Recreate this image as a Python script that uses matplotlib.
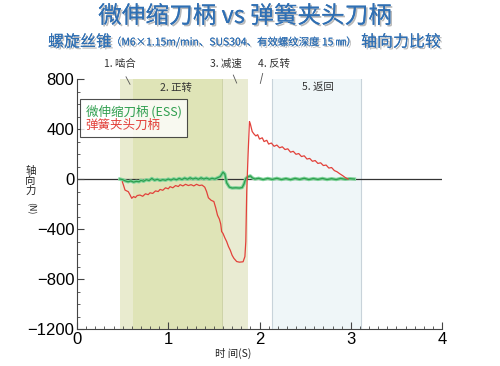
import matplotlib
matplotlib.use("Agg")
import matplotlib.pyplot as plt
import matplotlib.patheffects as pe
from matplotlib.ticker import MultipleLocator

plt.rcParams['font.family'] = ['Noto Sans CJK SC', 'DejaVu Sans']

# --- data ---
# phases: label, start (s), end (s)
phase_names = ["1. 啮合", "2. 正转", "3. 减速", "4. 反转", "5. 返回"]
phase_start = [0.47, 0.614, 1.589, 1.874, 2.137]
phase_end = [0.614, 1.589, 1.874, 2.137, 3.11]

# ESS (micro-float holder), axial force N
ess_t = [0.47, 0.50, 0.53, 0.56, 0.59, 0.62, 0.65, 0.68, 0.70, 0.73, 0.76, 0.79,
         0.82, 0.85, 0.88, 0.91, 0.94, 0.97, 1.00, 1.03, 1.06, 1.09, 1.12, 1.15,
         1.18, 1.21, 1.24, 1.27, 1.30, 1.33, 1.36, 1.39, 1.42, 1.45, 1.48, 1.51,
         1.54, 1.57, 1.60, 1.62, 1.64, 1.67, 1.70, 1.74, 1.78, 1.81, 1.83, 1.85,
         1.88, 1.90, 1.92, 1.95, 1.99, 2.04, 2.09, 2.14, 2.19, 2.24, 2.29, 2.34,
         2.39, 2.44, 2.49, 2.54, 2.59, 2.64, 2.69, 2.74, 2.79, 2.84, 2.89, 2.94,
         2.99, 3.04]
ess_f = [0, -5, -15, -22, -15, -25, -18, -22, -10, -18, -5, -12,
         5, -10, -2, -12, -5, -10, 0, -8, 2, -6, 5, -4,
         8, -2, 10, 0, 8, -2, 10, 0, 8, -2, 6, 0,
         10, 20, 55, 40, -30, -65, -72, -70, -72, -68, -40, 5,
         20, 25, 10, 0, 6, -4, 5, -3, 6, -4, 4, -5,
         5, -3, 6, -4, 4, -3, 5, -4, 3, -4, 5, -2,
         3, 0]

# collet chuck holder, axial force N
col_t = [0.497, 0.51, 0.526, 0.545, 0.562, 0.58, 0.60, 0.62, 0.64, 0.66, 0.69,
         0.72, 0.75, 0.78, 0.80, 0.83, 0.86, 0.89, 0.91, 0.94, 0.97, 1.00,
         1.02, 1.05, 1.08, 1.11, 1.13, 1.16, 1.19, 1.22, 1.25, 1.28, 1.31,
         1.34, 1.37, 1.40, 1.42, 1.44, 1.47, 1.50, 1.52, 1.54, 1.56, 1.575,
         1.585, 1.60, 1.62, 1.64, 1.66, 1.68, 1.70, 1.72, 1.75, 1.78, 1.82,
         1.84, 1.85, 1.86, 1.875, 1.89, 1.90, 1.92, 1.94, 1.96, 1.98, 2.00,
         2.03, 2.05, 2.08, 2.10, 2.13, 2.16, 2.19, 2.22, 2.25, 2.28, 2.31,
         2.34, 2.37, 2.40, 2.43, 2.46, 2.49, 2.52, 2.55, 2.58, 2.61, 2.64,
         2.67, 2.70, 2.73, 2.76, 2.79, 2.82, 2.85, 2.88, 2.91, 2.94, 2.97]
col_f = [-22, -50, -88, -95, -101, -125, -154, -140, -148, -132, -128,
         -138, -118, -125, -110, -115, -95, -100, -83, -90, -70, -78,
         -61, -70, -52, -60, -45, -55, -42, -52, -45, -55, -42,
         -52, -48, -65, -100, -150, -170, -180, -230, -290, -320, -360,
         -420, -435, -470, -500, -540, -570, -610, -635, -660, -665, -662,
         -620, -500, -100, 200, 460, 440, 380, 360, 345, 355, 320,
         330, 300, 310, 280, 288, 262, 272, 250, 258, 236, 242,
         215, 222, 198, 204, 180, 186, 160, 165, 142, 148, 125,
         130, 108, 112, 88, 92, 68, 58, 42, 28, 12, 0]

# --- figure ---
fig = plt.figure(figsize=(5.0, 3.66), dpi=100)
ax = fig.add_axes([0.154, 0.101, 0.730, 0.683])

shade = ['#e9ebcf', '#dfe4b7', '#e9ebd2', 'none', '#eff6f8']
for s, e, c in zip(phase_start, phase_end, shade):
    if c != 'none':
        ax.axvspan(s, e, color=c, lw=0, zorder=0)
ax.axvline(phase_start[2], color='#c9cfa0', lw=0.6, zorder=0.5)
ax.axvline(phase_start[4], color='#c8d3da', lw=0.8, zorder=0.5)
ax.axvline(phase_end[4], color='#c8d3da', lw=0.8, zorder=0.5)

ax.axhline(0, color='#333333', lw=0.9, zorder=1)

ax.plot(ess_t, ess_f, color='#7fd49a', lw=2.4, zorder=2)
ax.plot(ess_t, ess_f, color='#2e9e4e', lw=0.9, zorder=3, label='微伸缩刀柄 (ESS)')
ax.plot(col_t, col_f, color='#e2413a', lw=0.9, zorder=4, label='弹簧夹头刀柄')

ax.set_xlim(0, 4)
ax.set_ylim(-1200, 800)
ax.set_xticks([0, 1, 2, 3, 4])
ax.set_yticks([-1200, -800, -400, 0, 400, 800])
ax.xaxis.set_minor_locator(MultipleLocator(0.1))
ax.yaxis.set_minor_locator(MultipleLocator(100))
ax.tick_params(which='major', direction='in', length=5, width=0.8, color='#444444',
               labelsize=12, pad=2)
ax.tick_params(which='minor', direction='in', length=2.5, width=0.6, color='#444444')
for lab in ax.get_xticklabels() + ax.get_yticklabels():
    lab.set_family('Liberation Sans')
for sp in ['top', 'right']:
    ax.spines[sp].set_visible(False)
for sp in ['left', 'bottom']:
    ax.spines[sp].set_color('#444444')
    ax.spines[sp].set_linewidth(0.8)

# phase labels
lab_x = [0.47, 1.085, 1.63, 2.16, 2.64]
lab_y = [925, 730, 925, 925, 735]
for name, x, y in zip(phase_names, lab_x, lab_y):
    ax.text(x, y, name, ha='center', va='center', fontsize=7.5, color='#333333',
            clip_on=False)
for (x0, y0), (x1, y1) in [((0.537, 818), (0.581, 758)),
                           ((1.713, 832), (1.75, 768)),
                           ((2.035, 845), (2.009, 765))]:
    ax.plot([x0, x1], [y0, y1], color='#555555', lw=0.6, clip_on=False)

leg = ax.legend(loc='upper left', bbox_to_anchor=(0.008, 0.92), handlelength=0,
                handletextpad=0, labelcolor='linecolor', fontsize=9,
                fancybox=False, frameon=True, borderpad=0.45, labelspacing=0.05,
                borderaxespad=0)
leg.get_frame().set_edgecolor('#222222')
leg.get_frame().set_linewidth(0.8)
for h in leg.legend_handles:
    h.set_visible(False)

# axis labels
fig.text(0.061, 0.505, "轴\n向\n力", ha='center', va='center', fontsize=7.5,
         linespacing=1.0, color='#222222')
fig.text(0.061, 0.432, "(N)", ha='center', va='center', fontsize=6.5,
         rotation=270, color='#222222')
fig.text(0.466, 0.033, "时 间(S)", ha='center', va='center', fontsize=7.5,
         color='#222222')

# titles
shadow = [pe.withSimplePatchShadow(offset=(1.2, -1.2), shadow_rgbFace='#8a8a8a', alpha=0.6),
          pe.Normal()]
blue = '#2f6fb3'
fig.text(0.49, 0.955, "微伸缩刀柄 vs 弹簧夹头刀柄", ha='center', va='center',
         fontsize=17, color=blue, path_effects=shadow)
t1 = fig.text(0.096, 0.885, "螺旋丝锥", ha='left', va='center', fontsize=11.5,
              color=blue, path_effects=shadow)
t2 = fig.text(0.222, 0.885, "（M6×1.15m/min、SUS304、有效螺纹深度 15 ㎜）", fontsize=7.5,
              ha='left', va='center', color=blue, path_effects=shadow)
t3 = fig.text(0.722, 0.885, "轴向力比较", ha='left', va='center', fontsize=11.5,
              color=blue, path_effects=shadow)

fig.savefig("out.png", dpi=100)
